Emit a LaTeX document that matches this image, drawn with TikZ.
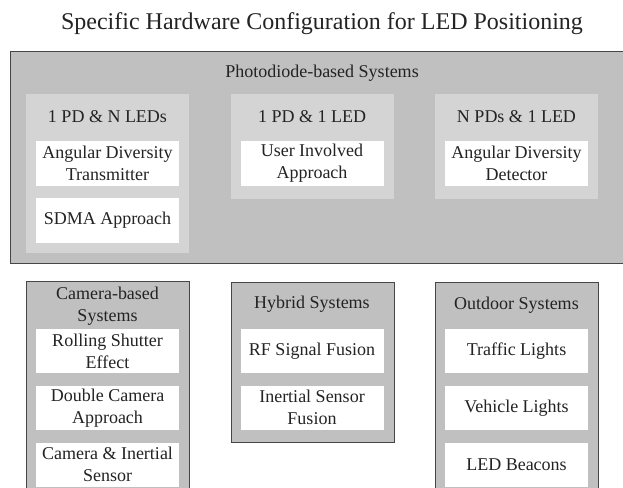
\documentclass[tikz,border=0pt]{standalone}
\usepackage{fontspec}
\setmainfont{Liberation Serif}
\usepackage{tikz}
\usetikzlibrary{positioning}
\usepackage{xcolor}
\definecolor{hwgray}{RGB}{192,192,192}
\definecolor{hwlight}{RGB}{212,212,212}
\definecolor{hwedge}{RGB}{70,70,70}
\definecolor{hwtext}{RGB}{35,35,35}
\tikzstyle{family} = [rectangle, anchor=north west, minimum width=81.5pt, draw=hwedge, fill=hwgray, line width=0.7pt, inner sep=0pt]
\tikzstyle{subfamily} = [rectangle, anchor=north west, minimum width=81.5pt, fill=hwlight, inner sep=0pt]
\tikzstyle{heading} = [font=\fontsize{9}{11}\selectfont, text=hwtext, align=center, inner sep=0pt]
\tikzstyle{method} = [rectangle, minimum width=71.5pt, minimum height=22pt, fill=white, align=center, inner sep=0pt, font=\fontsize{9}{11}\selectfont, text=hwtext]

\begin{document}
\begin{tikzpicture}[x=0.5pt, y=-0.5pt]
\useasboundingbox (0,0) rectangle (623,488);
\clip (0,0) rectangle (623,488);

% Title
\node (title) at (322,24) [font=\fontsize{12}{14}\selectfont, text=hwtext] {Specific Hardware Configuration for LED Positioning};

% Photodiode-based systems
\node (pd) at (10,51) [family, minimum width=312pt, minimum height=106pt] {};
\node (pdlabel) at (322,73) [heading] {Photodiode-based Systems};

\node (multi) at (26,94) [subfamily, minimum height=79.5pt] {};
\node (single) at (231,94) [subfamily, minimum height=52.5pt] {};
\node (detect) at (435,94) [subfamily, minimum height=52.5pt] {};

\node (multilabel) at (107.5,117) [heading] {1 PD \& N LEDs};
\node (singlelabel) at (312,117) [heading] {1 PD \& 1 LED};
\node (detectlabel) at (516.5,117) [heading] {N PDs \& 1 LED};

\node (adt) at (107.5,163.5) [method, minimum height=22.5pt] {Angular Diversity\\Transmitter};
\node (sdma) [method, below=5.5pt of adt, minimum height=22.5pt] {SDMA Approach};
\node (user) at (312,163.5) [method, minimum height=22.5pt] {User Involved\\Approach};
\node (add) at (516.5,163.5) [method, minimum height=22.5pt] {Angular Diversity\\Detector};

% Camera-based systems
\node (camera) at (26,281) [family, minimum height=115pt] {};
\node (cameralabel) at (107.5,306) [heading] {Camera-based\\Systems};
\node (rolling) at (107.5,351) [method] {Rolling Shutter\\Effect};
\node (double) [method, below=6pt of rolling] {Double Camera\\Approach};
\node (caminertial) [method, below=6pt of double] {Camera \& Inertial\\Sensor};

% Hybrid systems
\node (hybrid) at (231,282) [family, minimum height=80pt] {};
\node (hybridlabel) at (312,304) [heading] {Hybrid Systems};
\node (rf) at (312,351) [method] {RF Signal Fusion};
\node (inertial) [method, below=6pt of rf] {Inertial Sensor\\Fusion};

% Outdoor systems
\node (outdoor) at (435,282) [family, minimum height=115pt] {};
\node (outdoorlabel) at (516.5,305) [heading] {Outdoor Systems};
\node (traffic) at (516.5,351) [method] {Traffic Lights};
\node (vehicle) [method, below=6pt of traffic] {Vehicle Lights};
\node (beacons) [method, below=6pt of vehicle] {LED Beacons};
\end{tikzpicture}
\end{document}
